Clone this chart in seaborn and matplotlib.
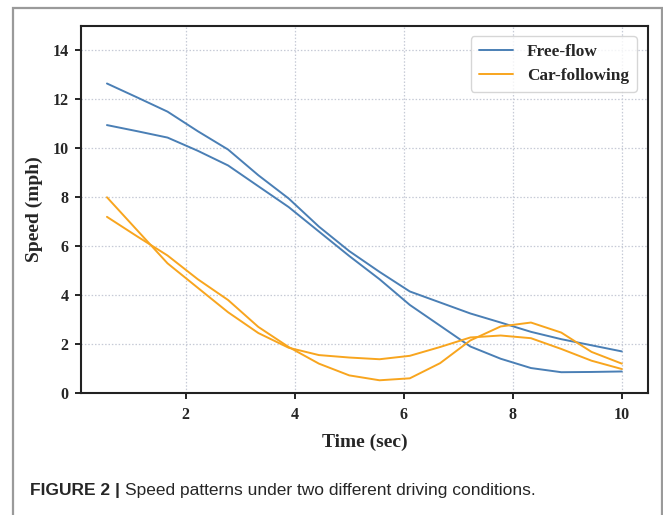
import numpy as np
import pandas as pd
import matplotlib
matplotlib.use("Agg")
import matplotlib.pyplot as plt
from matplotlib.patches import Rectangle
import seaborn as sns

# ---- data ----
time = [0.556, 1.111, 1.667, 2.222, 2.778, 3.333, 3.889, 4.444, 5.0,
        5.556, 6.111, 6.667, 7.222, 7.778, 8.333, 8.889, 9.444, 10.0]
free_flow_a = [12.65, 12.08, 11.5, 10.7, 9.95, 8.9, 7.95, 6.8, 5.8,
               4.95, 4.15, 3.7, 3.25, 2.88, 2.5, 2.2, 1.95, 1.7]
free_flow_b = [10.95, 10.7, 10.44, 9.9, 9.3, 8.45, 7.6, 6.6, 5.6,
               4.65, 3.6, 2.75, 1.9, 1.4, 1.02, 0.85, 0.86, 0.88]
car_following_a = [8.0, 6.65, 5.3, 4.3, 3.3, 2.45, 1.85, 1.55, 1.45,
                   1.38, 1.52, 1.88, 2.27, 2.35, 2.24, 1.8, 1.32, 0.98]
car_following_b = [7.2, 6.4, 5.62, 4.65, 3.8, 2.7, 1.88, 1.2, 0.72,
                   0.52, 0.6, 1.22, 2.15, 2.72, 2.88, 2.47, 1.68, 1.2]
conditions = ["Free-flow", "Car-following"]
x_ticks = [2, 4, 6, 8, 10]
y_ticks = [0, 2, 4, 6, 8, 10, 12, 14]
caption_bold = "FIGURE 2 |"
caption_text = "Speed patterns under two different driving conditions."

rows = []
for cond, run, vals in [("Free-flow", "a", free_flow_a), ("Free-flow", "b", free_flow_b),
                        ("Car-following", "a", car_following_a), ("Car-following", "b", car_following_b)]:
    for t, v in zip(time, vals):
        rows.append({"time": t, "speed": v, "condition": cond, "run": cond + run})
df = pd.DataFrame(rows)

sns.set_style("ticks")
plt.rcParams["font.family"] = ["Liberation Serif", "DejaVu Serif"]
plt.rcParams["font.weight"] = "bold"

W, H = 663, 515
fig = plt.figure(figsize=(W / 100, H / 100), dpi=100)
fig.patch.set_facecolor("white")

# outer frame
fig.add_artist(Rectangle((13 / W, -0.05), (662 - 13) / W, 1 - 8 / H + 0.05,
                         transform=fig.transFigure, fill=False,
                         edgecolor="#9a9a9a", linewidth=1.6))

ax = fig.add_axes([81 / W, 1 - 393 / H, (648 - 81) / W, (393 - 26) / H])

palette = {"Free-flow": "#4a7fb5", "Car-following": "#f8a51e"}
sns.lineplot(data=df, x="time", y="speed", hue="condition", units="run",
             estimator=None, palette=palette, hue_order=conditions,
             linewidth=1.4, ax=ax, sort=False)

ax.set_ylim(0, 15)
ax.set_xlim(0.08, 10.48)
ax.set_xticks(x_ticks)
ax.set_yticks(y_ticks)
ax.tick_params(axis="both", direction="out", length=4, width=1.2,
               color="black", labelsize=11.5, pad=5)
ax.tick_params(axis="x", pad=6)
for lab in ax.get_xticklabels() + ax.get_yticklabels():
    lab.set_fontweight("bold")
ax.grid(True, linestyle=(0, (1.2, 1.5)), color="#c6cad6", linewidth=0.9)
for sp in ax.spines.values():
    sp.set_visible(True)
    sp.set_linewidth(1.5)
    sp.set_color("#222222")

ax.set_xlabel("Time (sec)", fontsize=14, fontweight="bold", labelpad=8)
ax.set_ylabel("Speed (mph)", fontsize=14, fontweight="bold", labelpad=7)

leg = ax.legend(loc="upper right", fontsize=12.4, frameon=True, fancybox=True,
                handlelength=2.0, borderpad=0.45, labelspacing=0.45,
                handletextpad=0.8, bbox_to_anchor=(0.995, 0.995))
leg.get_frame().set_edgecolor("#cccccc")
leg.get_frame().set_linewidth(1.0)
for t in leg.get_texts():
    t.set_fontweight("bold")
for h in leg.get_lines():
    h.set_linewidth(1.4)

# caption
fig.canvas.draw()
cap1 = fig.text(30 / W, 1 - 491 / H, caption_bold, fontsize=12.5, fontweight="bold",
                family=["Liberation Sans", "DejaVu Sans"], va="center", ha="left")
fig.canvas.draw()
bb = cap1.get_window_extent(renderer=fig.canvas.get_renderer())
fig.text((bb.x1 + 5) / W, 1 - 491 / H, caption_text, fontsize=12.5, fontweight="normal",
         family=["Liberation Sans", "DejaVu Sans"], va="center", ha="left")

fig.savefig("out.png", dpi=100, facecolor="white")
